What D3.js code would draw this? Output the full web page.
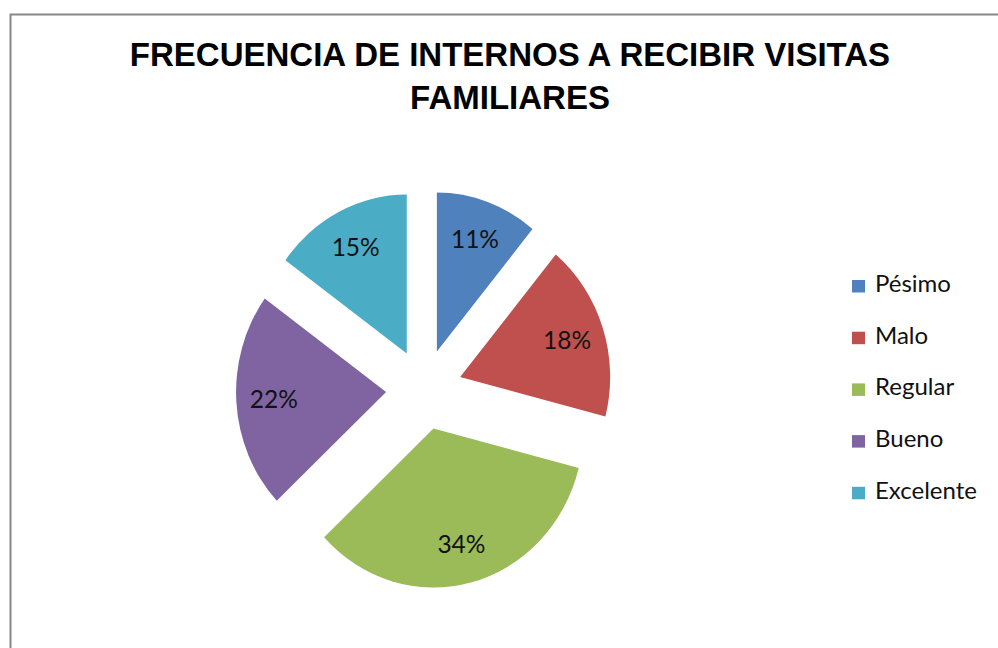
<!DOCTYPE html>
<html>
<head>
<meta charset="utf-8">
<script src="https://cdn.jsdelivr.net/npm/d3@7"></script>
<style>
  html, body { margin: 0; padding: 0; background: #fff; }
  svg { display: block; }
</style>
</head>
<body>
<svg id="chart" width="998" height="648"></svg>
<script>
const categories = ["Pésimo", "Malo", "Regular", "Bueno", "Excelente"];
const values = [11, 18, 34, 22, 15];
const labels = ["11%", "18%", "34%", "22%", "15%"];
const colors = ["#4F81BD", "#C0504D", "#9BBB59", "#8064A2", "#4BACC6"];
const titleLines = ["FRECUENCIA DE INTERNOS A RECIBIR VISITAS", "FAMILIARES"];

const svg = d3.select("#chart");

// frame
svg.append("rect")
  .attr("x", 10.5).attr("y", 14.5)
  .attr("width", 1100).attr("height", 800)
  .attr("fill", "#fff").attr("stroke", "#878787").attr("stroke-width", 2);

// title
const title = svg.append("text")
  .attr("text-anchor", "middle")
  .attr("font-family", "Liberation Sans, Arial, sans-serif")
  .attr("font-weight", "bold")
  .attr("font-size", 33)
  .attr("fill", "#000");
titleLines.forEach((t, i) => {
  title.append("tspan").attr("x", 510).attr("y", 66 + i * 43).text(t);
});

// pie
const cx = 424, cy = 389.5, r = 150, explode = 38, sy = 1.06;
const pie = d3.pie().sort(null).value(d => d)(values);
const arc = d3.arc().innerRadius(0).outerRadius(r);

const g = svg.append("g").attr("transform", `translate(${cx},${cy}) scale(1,${sy})`);
g.selectAll("path").data(pie).join("path")
  .attr("d", arc)
  .attr("fill", (d, i) => colors[i])
  .attr("transform", d => {
    const m = (d.startAngle + d.endAngle) / 2;
    return `translate(${explode * Math.sin(m)},${-explode * Math.cos(m)})`;
  });

// labels
const lr = explode + 0.75 * r;
svg.append("g").selectAll("text").data(pie).join("text")
  .attr("x", d => { const m = (d.startAngle + d.endAngle) / 2; return cx + lr * Math.sin(m); })
  .attr("y", d => { const m = (d.startAngle + d.endAngle) / 2; return cy - lr * Math.cos(m) * sy; })
  .attr("dy", "0.36em")
  .attr("text-anchor", "middle")
  .attr("font-family", "Lato, sans-serif")
  .attr("font-size", 24.5)
  .attr("fill", "#111")
  .text((d, i) => labels[i]);

// legend
const leg = svg.append("g");
const rowH = 51.7;
categories.forEach((c, i) => {
  const y0 = 280 + i * rowH;
  leg.append("rect").attr("x", 852).attr("y", y0).attr("width", 13).attr("height", 12.5).attr("fill", colors[i]);
  leg.append("text").attr("x", 875).attr("y", y0 + 12)
    .attr("font-family", "Lato, sans-serif").attr("font-size", 24).attr("fill", "#111").text(c);
});
</script>
</body>
</html>
